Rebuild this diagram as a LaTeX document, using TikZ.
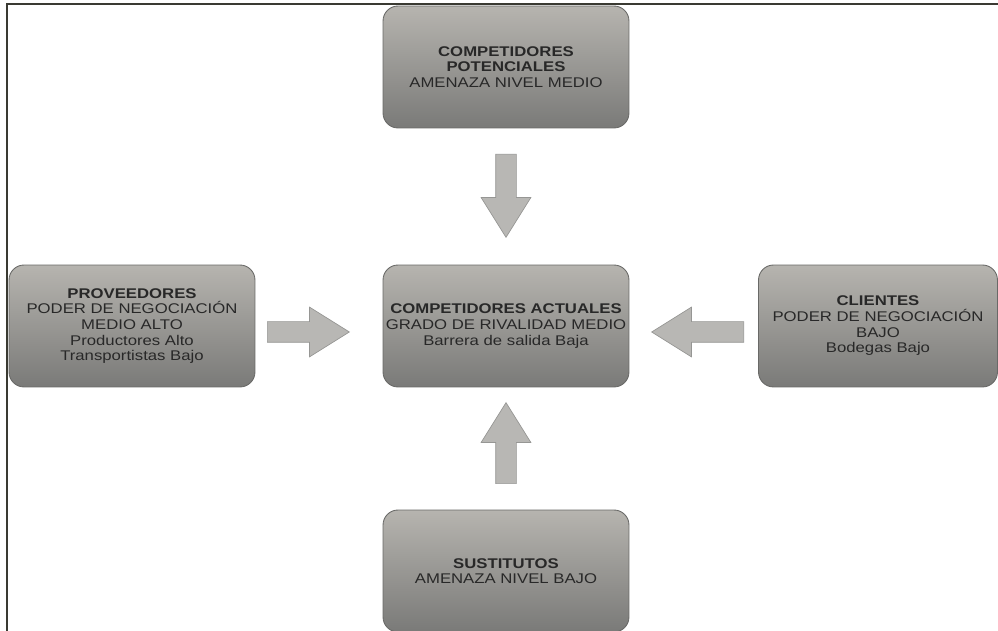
\documentclass[tikz,border=0pt]{standalone}
\usepackage{fontspec}
\setmainfont{Liberation Sans}[FakeStretch=1.19]
\usetikzlibrary{shapes.arrows}

\definecolor{cajaArriba}{RGB}{182,180,175}
\definecolor{cajaAbajo}{RGB}{122,122,120}
\definecolor{cajaBorde}{RGB}{105,105,103}
\definecolor{flechaRelleno}{RGB}{184,183,180}
\definecolor{flechaBorde}{RGB}{150,150,148}
\definecolor{texto}{RGB}{40,40,40}
\definecolor{marco}{RGB}{58,58,50}

\tikzset{
  fuerza/.style={rectangle, rounded corners=0.3cm, draw=cajaBorde, line width=0.5pt,
    top color=cajaArriba, bottom color=cajaAbajo,
    minimum width=4.92cm, minimum height=2.44cm, inner sep=0pt,
    align=center, text=texto, font=\fontsize{8}{8.9}\selectfont},
  flecha/.style={single arrow, draw=flechaBorde, fill=flechaRelleno, line width=0.4pt,
    inner sep=0.2cm, minimum width=0.98cm,
    single arrow head extend=0.29cm, single arrow tip angle=64, anchor=tip}
}

\begin{document}
\begin{tikzpicture}[x=0.02cm, y=-0.02cm]
  \useasboundingbox (0,0) rectangle (998,631);
  % marco
  \draw[marco, line width=0.04cm] (7,631) |- (998,4);

  % las cinco fuerzas
  \node[fuerza] (potenciales) at (506,67)
    {\textbf{COMPETIDORES}\\\textbf{POTENCIALES}\\AMENAZA NIVEL MEDIO};
  \node[fuerza] (proveedores) at (132,326)
    {\textbf{PROVEEDORES}\\PODER DE NEGOCIACIÓN\\MEDIO ALTO\\Productores Alto\\Transportistas Bajo};
  \node[fuerza] (actuales) at (506,326)
    {\textbf{COMPETIDORES ACTUALES}\\GRADO DE RIVALIDAD MEDIO\\Barrera de salida Baja};
  \node[fuerza, minimum width=4.78cm] (clientes) at (878,326)
    {\textbf{CLIENTES}\\PODER DE NEGOCIACIÓN\\BAJO\\Bodegas Bajo};
  \node[fuerza] (sustitutos) at (506,571)
    {\textbf{SUSTITUTOS}\\AMENAZA NIVEL BAJO};

  % flechas hacia los competidores actuales
  \node[flecha, shape border rotate=270, minimum height=1.66cm] (flechaPot) at (506,238) {};
  \node[flecha, minimum height=1.64cm] (flechaProv) at (350,332) {};
  \node[flecha, shape border rotate=180, minimum height=1.84cm] (flechaCli) at (651,332) {};
  \node[flecha, shape border rotate=90, minimum height=1.62cm] (flechaSust) at (506,402) {};
\end{tikzpicture}
\end{document}
